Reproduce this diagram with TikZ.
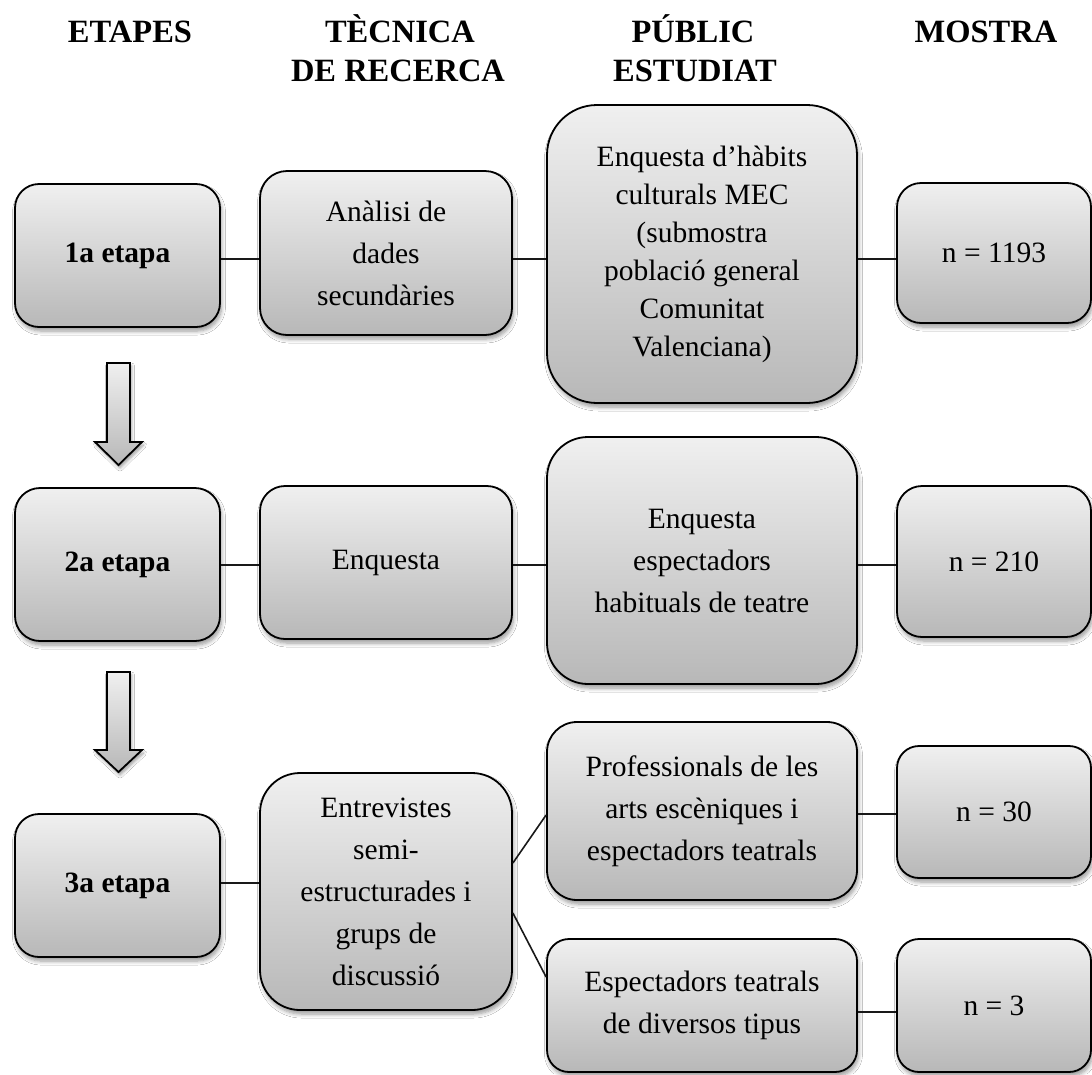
\documentclass[tikz,border=0pt]{standalone}
\usepackage{fontspec}
\setmainfont{Liberation Serif}
\usetikzlibrary{shadows.blur}
\begin{document}
\begin{tikzpicture}[x=1pt,y=-1pt,
  box/.style={draw=black, line width=1.8pt, rounded corners=#1,
    top color=black!6, bottom color=black!28, inner sep=0pt, align=center,
    font=\fontsize{29.5}{42}\selectfont,
    blur shadow={shadow xshift=1.5pt, shadow yshift=-4pt, shadow blur steps=6, shadow opacity=40, shadow blur radius=4pt}},
  box/.default=25pt,
  stagebox/.style={font=\fontsize{29.5}{42}\selectfont\bfseries},
  conn/.style={draw=black!90, line width=1.6pt},
  head/.style={font=\fontsize{32.5}{39}\selectfont\bfseries, anchor=base, inner sep=0pt},
  blockarrow/.style={draw=black, line width=1.8pt, top color=black!6, bottom color=black!28,
    blur shadow={shadow xshift=1.5pt, shadow yshift=-3pt, shadow blur steps=6, shadow opacity=40, shadow blur radius=3pt}}
]
\useasboundingbox (0,0) rectangle (1092,1074);
\fill[white] (0,0) rectangle (1092,1074);

% headers
\node[head] (h1) at (130,42) {ETAPES};
\node[head] (h2a) at (400,42) {TÈCNICA};
\node[head] (h2b) at (398,81) {DE RECERCA};
\node[head] (h3a) at (693,42) {PÚBLIC};
\node[head] (h3b) at (695,81) {ESTUDIAT};
\node[head] (h4) at (986,42) {MOSTRA};

% row 1
\node[box=24pt, stagebox, minimum width=205pt, minimum height=143pt] (e1) at (117.5,255.5) {1a etapa};
\node[box=27pt, minimum width=252pt, minimum height=164pt] (t1) at (386,253) {Anàlisi de\\dades\\secundàries};
\node[box=50pt, minimum width=310pt, minimum height=298pt, font=\fontsize{29.5}{38}\selectfont] (p1) at (702,254) {Enquesta d’hàbits\\culturals MEC\\(submostra\\població general\\Comunitat\\Valenciana)};
\node[box=24pt, minimum width=194pt, minimum height=140pt] (m1) at (994,253) {n = 1193};
\coordinate (r1) at (0,259);
\draw[conn] (e1.east |- r1) -- (t1.west |- r1);
\draw[conn] (t1.east |- r1) -- (p1.west |- r1);
\draw[conn] (p1.east |- r1) -- (m1.west |- r1);

% row 2
\node[box=25pt, stagebox, minimum width=205pt, minimum height=153pt] (e2) at (117.5,564.5) {2a etapa};
\node[box=25pt, minimum width=252pt, minimum height=153pt] (t2) at (386,562.5) {Enquesta};
\node[box=41pt, minimum width=310pt, minimum height=247pt] (p2) at (702,560.5) {Enquesta\\espectadors\\habituals de teatre};
\node[box=25pt, minimum width=194pt, minimum height=151pt] (m2) at (994,561.5) {n = 210};
\coordinate (r2) at (0,565);
\draw[conn] (e2.east |- r2) -- (t2.west |- r2);
\draw[conn] (t2.east |- r2) -- (p2.west |- r2);
\draw[conn] (p2.east |- r2) -- (m2.west |- r2);

% row 3
\node[box=24pt, stagebox, minimum width=205pt, minimum height=143pt] (e3) at (117.5,885.5) {3a etapa};
\node[box=40pt, minimum width=252pt, minimum height=237pt] (t3) at (386,891.5) {Entrevistes\\semi-\\estructurades i\\grups de\\discussió};
\node[box=30pt, minimum width=310pt, minimum height=178pt] (p3a) at (702,811) {Professionals de les\\arts escèniques i\\espectadors teatrals};
\node[box=22pt, minimum width=310pt, minimum height=133pt] (p3b) at (702,1005.5) {Espectadors teatrals\\de diversos tipus};
\node[box=22pt, minimum width=194pt, minimum height=132pt] (m3a) at (994,812) {n = 30};
\node[box=22pt, minimum width=194pt, minimum height=133pt] (m3b) at (994,1005.5) {n = 3};
\coordinate (r3) at (0,883);
\coordinate (d1a) at (0,863);
\coordinate (d1b) at (0,815);
\coordinate (d2a) at (0,913);
\coordinate (d2b) at (0,977);
\coordinate (r3a) at (0,814);
\coordinate (r3b) at (0,1012);
\draw[conn] (e3.east |- r3) -- (t3.west |- r3);
\draw[conn] (t3.east |- d1a) -- (p3a.west |- d1b);
\draw[conn] (t3.east |- d2a) -- (p3b.west |- d2b);
\draw[conn] (p3a.east |- r3a) -- (m3a.west |- r3a);
\draw[conn] (p3b.east |- r3b) -- (m3b.west |- r3b);

% block arrows
\draw[blockarrow] (107,363) -- (130,363) -- (130,442) -- (142,442) -- (118.5,465) -- (95,442) -- (107,442) -- cycle;
\draw[blockarrow] (107,672) -- (130,672) -- (130,750) -- (142,750) -- (118.5,772) -- (95,750) -- (107,750) -- cycle;
\end{tikzpicture}
\end{document}
